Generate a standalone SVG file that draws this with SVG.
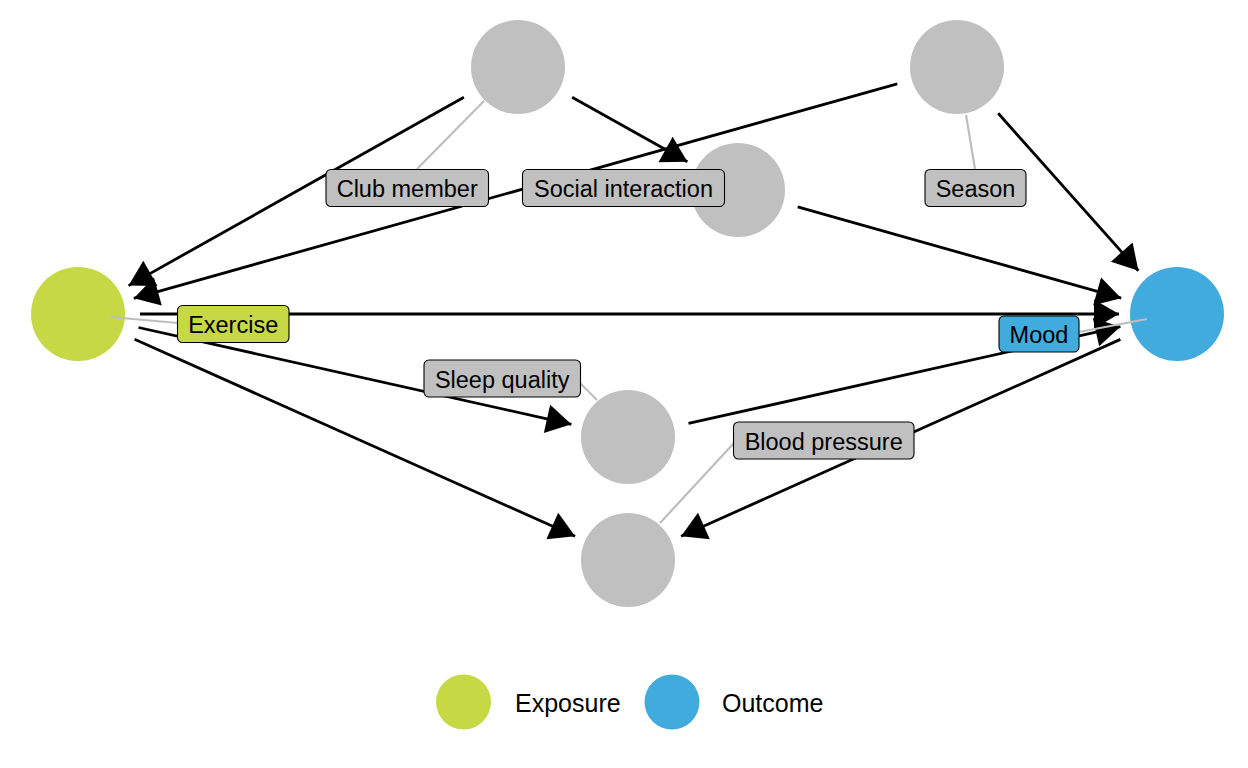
<svg xmlns="http://www.w3.org/2000/svg" width="1248" height="768" viewBox="0 0 1248 768">
<style>
.edge{stroke:#000;stroke-width:2.8;fill:none;marker-end:url(#arr)}
.lead{stroke:#BEBEBE;stroke-width:2.2;fill:none}
.nd{fill:#C0C0C0}
.exp{fill:#C6D944}
.out{fill:#41ABDD}
.box{stroke:#000;stroke-width:1.1}
.lbl{font-family:"Liberation Sans",Arial,sans-serif;font-size:23.5px;fill:#000;text-anchor:middle}
.leg{font-family:"Liberation Sans",Arial,sans-serif;font-size:25px;fill:#000}
</style>
<defs>
<marker id="arr" markerUnits="userSpaceOnUse" markerWidth="32" markerHeight="34" viewBox="0 -17 27 34" refX="25" refY="0" orient="auto">
<path d="M0,-14.5 L25,0 L0,14.5 z" fill="#000"/>
</marker>
</defs>
<rect width="1248" height="768" fill="#fff"/>
<g id="connectors">
<line class="edge" x1="463.9" y1="97.3" x2="128.6" y2="285.6"/>
<line class="edge" x1="897.3" y1="83.8" x2="133.8" y2="298.3"/>
<line class="edge" x1="572.1" y1="97.3" x2="687.4" y2="161.7"/>
<line class="edge" x1="998.2" y1="113.3" x2="1138.4" y2="270.7"/>
<line class="edge" x1="797.7" y1="206.9" x2="1121.2" y2="298.2"/>
<line class="edge" x1="140" y1="314" x2="1119" y2="314"/>
<line class="edge" x1="688.5" y1="423.4" x2="1120.4" y2="326.7"/>
<line class="edge" x1="1120.4" y1="339.4" x2="681.1" y2="536.3"/>
<line class="edge" x1="138.5" y1="327.5" x2="571.4" y2="424.3"/>
<line class="edge" x1="134.6" y1="339.3" x2="575.1" y2="536.3"/>
</g>
<g id="node-club-member"><circle class="nd" cx="518" cy="67" r="47"/></g>
<g id="node-season"><circle class="nd" cx="957" cy="67" r="47"/></g>
<g id="node-social-interaction"><circle class="nd" cx="738" cy="190" r="47"/></g>
<g id="node-exercise"><circle class="exp" cx="78" cy="314" r="47"/></g>
<g id="node-mood"><circle class="out" cx="1177" cy="314" r="47"/></g>
<g id="node-sleep-quality"><circle class="nd" cx="628" cy="437" r="47"/></g>
<g id="node-blood-pressure"><circle class="nd" cx="628" cy="560" r="47"/></g>
<g id="labels">
<line class="lead" x1="417" y1="169" x2="484" y2="101"/>
<line class="lead" x1="975" y1="169" x2="966" y2="115"/>
<line class="lead" x1="110" y1="317" x2="178" y2="323"/>
<line class="lead" x1="1079" y1="332" x2="1147" y2="319"/>
<line class="lead" x1="580" y1="383" x2="597" y2="400"/>
<line class="lead" x1="734" y1="443" x2="660" y2="523"/>
<g id="label-club-member"><rect class="box nd" x="326" y="169.5" width="162.5" height="37" rx="5"/><text class="lbl" x="407.2" y="197">Club member</text></g>
<g id="label-social-interaction"><rect class="box nd" x="522.5" y="169.5" width="202" height="37" rx="5"/><text class="lbl" x="623.5" y="197">Social interaction</text></g>
<g id="label-season"><rect class="box nd" x="925" y="169.5" width="101" height="37" rx="5"/><text class="lbl" x="975.5" y="197">Season</text></g>
<g id="label-exercise"><rect class="box exp" x="177.5" y="305.5" width="111.5" height="37" rx="5"/><text class="lbl" x="233.2" y="333">Exercise</text></g>
<g id="label-mood"><rect class="box out" x="999" y="316" width="80" height="36" rx="5"/><text class="lbl" x="1039" y="343">Mood</text></g>
<g id="label-sleep-quality"><rect class="box nd" x="424" y="360" width="156.5" height="37" rx="5"/><text class="lbl" x="502.2" y="387.5">Sleep quality</text></g>
<g id="label-blood-pressure"><rect class="box nd" x="733.5" y="422" width="180.5" height="37" rx="5"/><text class="lbl" x="823.7" y="449.5">Blood pressure</text></g>
</g>
<g id="legend">
<circle class="exp" cx="463.5" cy="702" r="27.5"/>
<text class="leg" x="515" y="711.5">Exposure</text>
<circle class="out" cx="672" cy="702" r="27.5"/>
<text class="leg" x="722" y="711.5">Outcome</text>
</g>
</svg>
